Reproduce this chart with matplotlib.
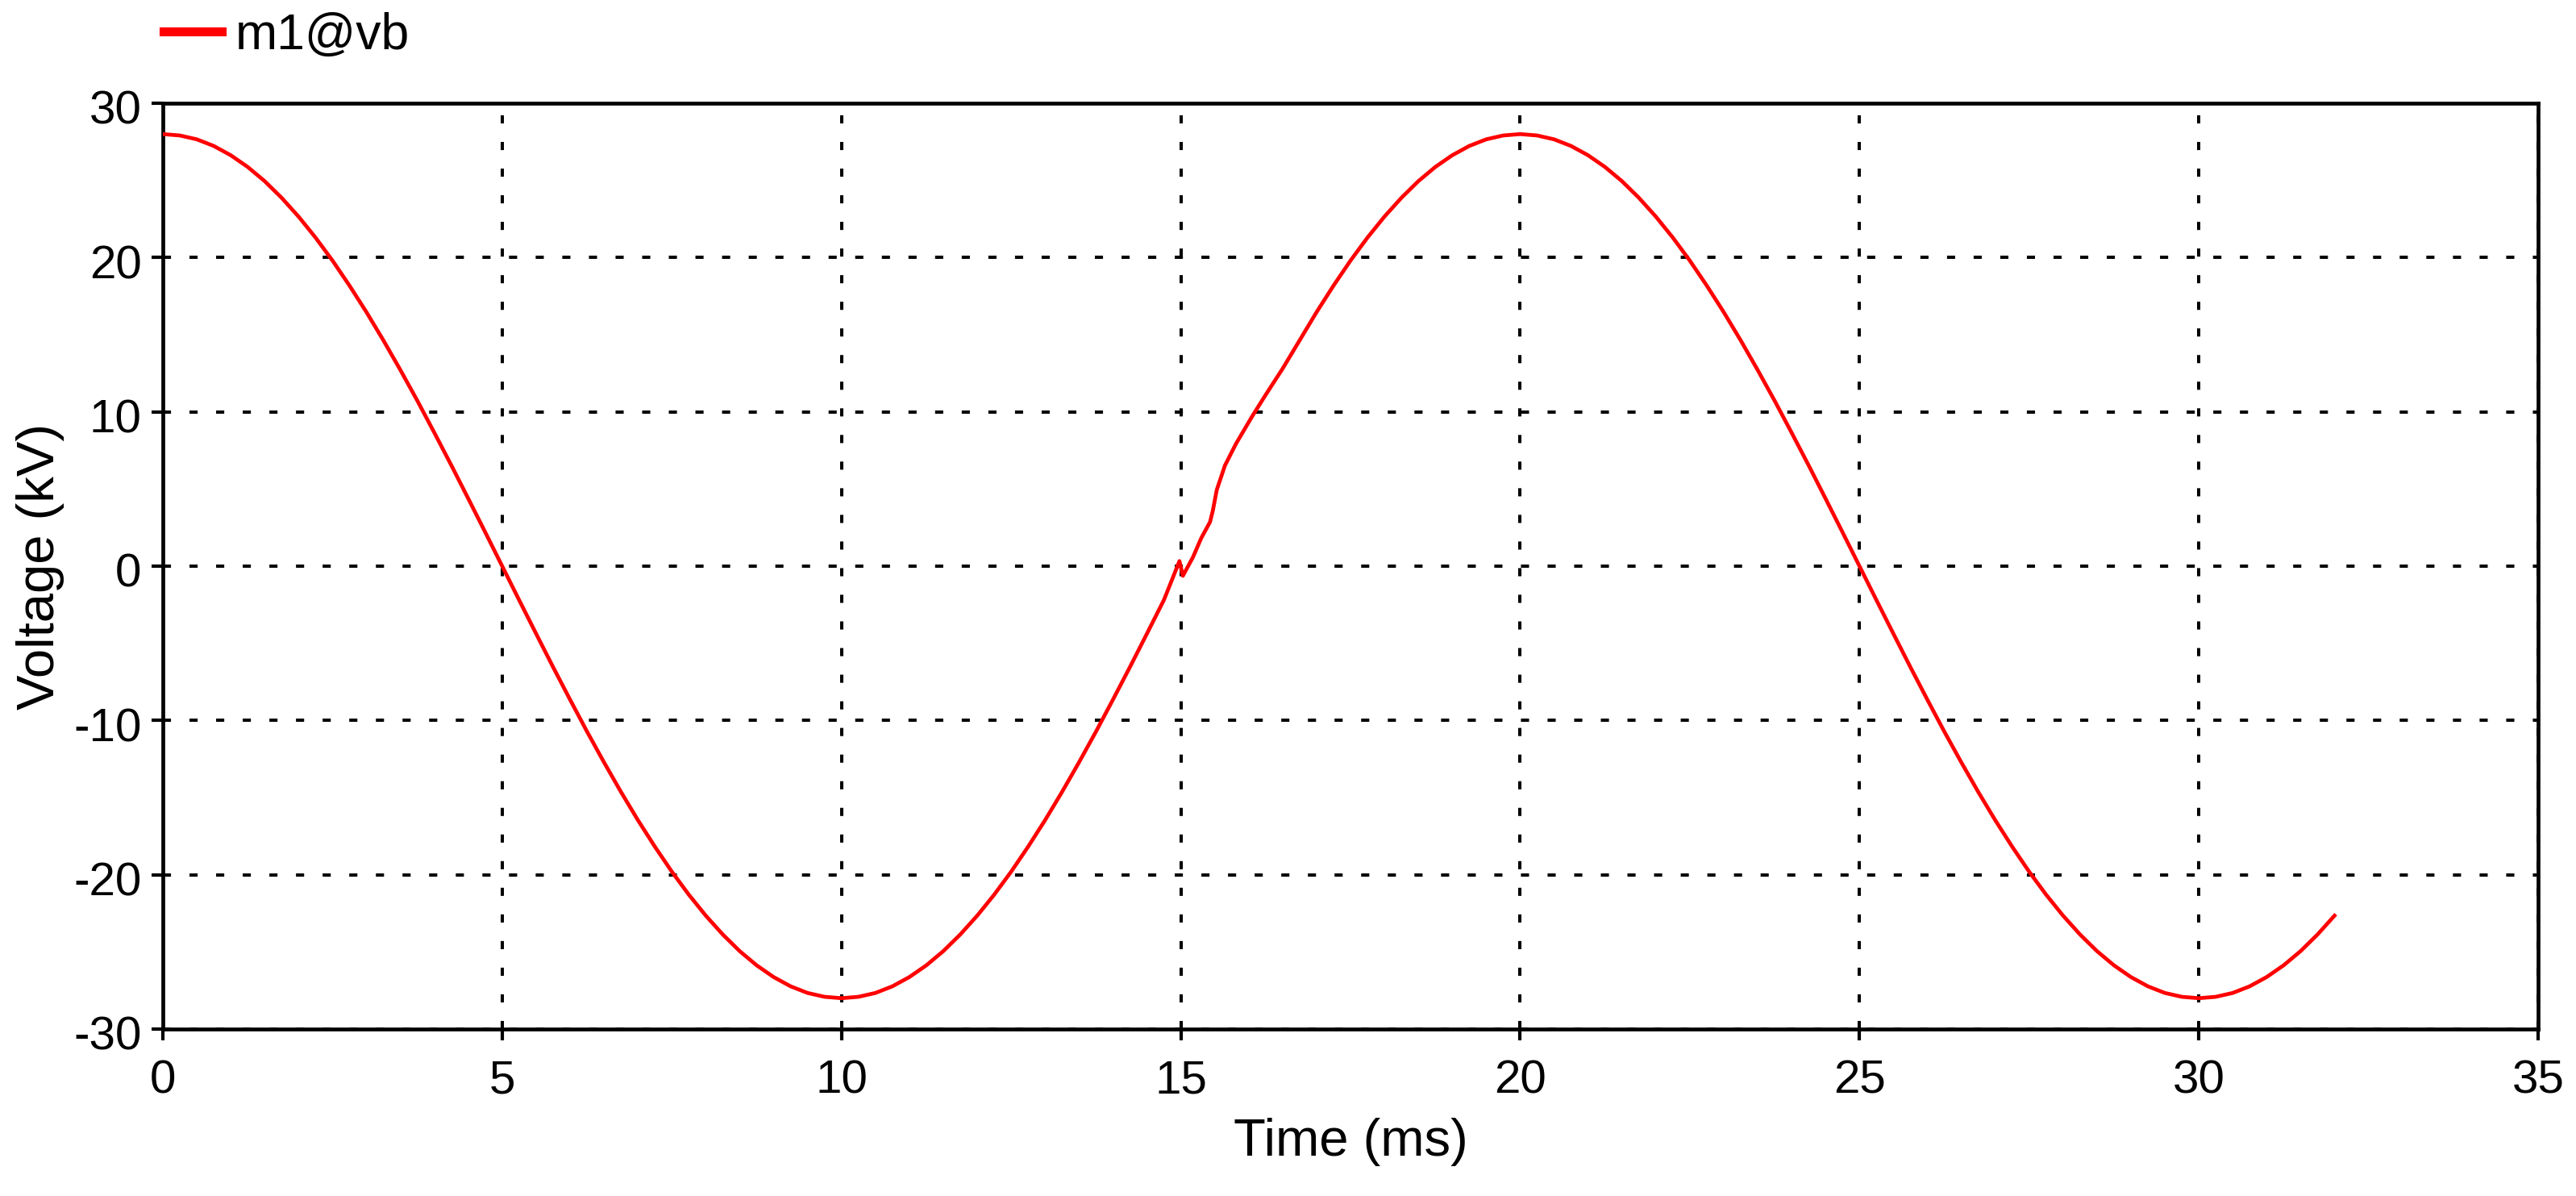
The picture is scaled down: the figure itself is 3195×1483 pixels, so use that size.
import matplotlib
matplotlib.use("Agg")
import matplotlib.pyplot as plt
from matplotlib.transforms import ScaledTranslation

# Time (ms) and voltage (kV)
time_ms = [0, 0.25, 0.5, 0.75, 1, 1.25, 1.5, 1.75, 2, 2.25, 2.5, 2.75, 3, 3.25, 3.5, 3.75,
           4, 4.25, 4.5, 4.75, 5, 5.25, 5.5, 5.75, 6, 6.25, 6.5, 6.75, 7, 7.25, 7.5, 7.75,
           8, 8.25, 8.5, 8.75, 9, 9.25, 9.5, 9.75, 10,
           10.25, 10.5, 10.75, 11, 11.25, 11.5, 11.75, 12, 12.25, 12.5, 12.75, 13, 13.25,
           13.5, 13.75, 14, 14.25, 14.5, 14.75,
           14.98, 15.03, 15.18, 15.30, 15.43, 15.47, 15.53, 15.65, 15.81, 16.05, 16.25,
           16.5, 16.75, 17, 17.25, 17.5, 17.75, 18, 18.25, 18.5, 18.75, 19, 19.25, 19.5, 19.75, 20,
           20.25, 20.5, 20.75, 21, 21.25, 21.5, 21.75, 22, 22.25, 22.5, 22.75, 23, 23.25, 23.5, 23.75,
           24, 24.25, 24.5, 24.75, 25, 25.25, 25.5, 25.75, 26, 26.25, 26.5, 26.75, 27, 27.25, 27.5, 27.75,
           28, 28.25, 28.5, 28.75, 29, 29.25, 29.5, 29.75, 30,
           30.25, 30.5, 30.75, 31, 31.25, 31.5, 31.75, 32]
voltage_kv = [28.00, 27.91, 27.66, 27.23, 26.63, 25.87, 24.95, 23.87, 22.65, 21.29, 19.80, 18.18,
              16.46, 14.63, 12.71, 10.72, 8.65, 6.54, 4.38, 2.20, 0.00, -2.20, -4.38, -6.54,
              -8.65, -10.72, -12.71, -14.63, -16.46, -18.18, -19.80, -21.29, -22.65, -23.87,
              -24.95, -25.87, -26.63, -27.23, -27.66, -27.91, -28.00,
              -27.91, -27.66, -27.23, -26.63, -25.87, -24.95, -23.87, -22.65, -21.29, -19.80,
              -18.18, -16.46, -14.63, -12.71, -10.72, -8.65, -6.54, -4.38, -2.20,
              0.33, -0.63, 0.59, 1.81, 2.86, 3.56, 4.95, 6.52, 7.91, 9.70, 11.10,
              12.80, 14.63, 16.46, 18.18, 19.80, 21.29, 22.65, 23.87, 24.95, 25.87, 26.63,
              27.23, 27.66, 27.91, 28.00,
              27.91, 27.66, 27.23, 26.63, 25.87, 24.95, 23.87, 22.65, 21.29, 19.80, 18.18,
              16.46, 14.63, 12.71, 10.72, 8.65, 6.54, 4.38, 2.20, 0.00, -2.20, -4.38, -6.54,
              -8.65, -10.72, -12.71, -14.63, -16.46, -18.18, -19.80, -21.29, -22.65, -23.87,
              -24.95, -25.87, -26.63, -27.23, -27.66, -27.91, -28.00,
              -27.91, -27.66, -27.23, -26.63, -25.87, -24.95, -23.87, -22.65]

x_ticks = [0, 5, 10, 15, 20, 25, 30, 35]
y_ticks = [-30, -20, -10, 0, 10, 20, 30]
series_label = "m1@vb"
x_label = "Time (ms)"
y_label = "Voltage (kV)"

W, H = 3195, 1483
plt.rcParams['font.family'] = ['Liberation Sans', 'DejaVu Sans']
plt.rcParams['axes.unicode_minus'] = False
fig = plt.figure(figsize=(W / 100, H / 100), dpi=100)
ax = fig.add_axes([202 / W, 1 - 1276 / H, (3148 - 202) / W, (1276 - 128) / H])

line, = ax.plot(time_ms, voltage_kv, color='#ff0000', lw=3.4, label=series_label, zorder=3)

ax.set_xlim(0, 35)
ax.set_ylim(-30, 30)
ax.set_xticks(x_ticks)
ax.set_yticks(y_ticks)
ax.grid(True, color='black', lw=2.9, linestyle=(0, (2.5, 5.7)), zorder=1)
ax.set_axisbelow(True)
for s in ax.spines.values():
    s.set_linewidth(3.4)
    s.set_color('black')
ax.tick_params(direction='out', length=10, width=3, labelsize=42, colors='black')
ax.tick_params(axis='x', pad=17)
ax.tick_params(axis='y', pad=9)
shift = ScaledTranslation(0, -0.05, fig.dpi_scale_trans)
for lab in ax.get_yticklabels():
    lab.set_transform(lab.get_transform() + shift)
ax.set_xlabel(x_label, fontsize=47, labelpad=13)
ax.set_ylabel(y_label, fontsize=47, labelpad=8)

leg = fig.legend(handles=[line], loc='center left', bbox_to_anchor=(203 / W, 1 - 44 / H),
                 frameon=False, fontsize=45, borderpad=0, borderaxespad=0,
                 handlelength=1.16, handletextpad=0.26)
leg.get_lines()[0].set_linewidth(8)

fig.savefig("out.png", dpi=100)
